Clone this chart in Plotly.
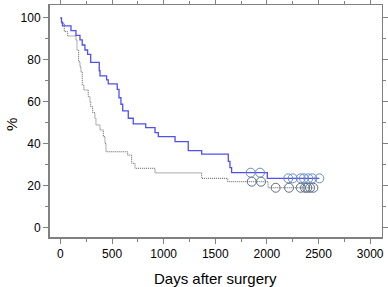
import plotly.graph_objects as go

# Blue group (Kaplan-Meier steps)
blue_days = [0, 10, 20, 102, 150, 189, 211, 237, 263, 293, 376, 383, 447, 463, 550, 567, 586, 603,
             657, 705, 826, 916, 948, 1110, 1238, 1368, 1626, 1642, 1658, 2004, 2508]
blue_pct = [100, 98, 96.2, 94, 91.7, 89.5, 87.1, 84.7, 82.6, 78.8, 74.8, 72.3, 70.4, 68.5, 65.9, 61.9,
            58.8, 55.6, 52.1, 49.4, 47.6, 45.2, 43.3, 40.9, 36.6, 35.0, 31.5, 28.5, 26.1, 23.4, 23.4]
blue_cens_days = [1843, 1933, 2207, 2250, 2327, 2359, 2401, 2440, 2508]
blue_cens_pct = [26.1, 26.1, 23.4, 23.4, 23.4, 23.4, 23.4, 23.4, 23.4]

# Gray group
gray_days = [0, 10, 37, 70, 150, 160, 176, 189, 198, 211, 227, 269, 286, 293, 312, 334, 344, 383,
             415, 431, 441, 651, 690, 722, 916, 1368, 1620, 2011, 2450]
gray_pct = [100, 97.5, 93.5, 91.4, 89.5, 84.7, 79.1, 76.7, 74.3, 67.9, 65.6, 62.4, 60, 57.6, 54.8,
            52.1, 48.9, 46.5, 43.3, 40.1, 36.1, 34.5, 30.6, 28.2, 26.0, 23.4, 21.8, 18.9, 18.9]
gray_cens_days = [1853, 1943, 2085, 2214, 2327, 2369, 2391, 2418, 2450]
gray_cens_pct = [21.8, 21.8, 18.9, 18.9, 18.9, 18.9, 18.9, 18.9, 18.9]

x_tickvals = [0, 500, 1000, 1500, 2000, 2500, 3000]
y_tickvals = [0, 20, 40, 60, 80, 100]
x_title = "Days after surgery"
y_title = "%"

FONT = "Liberation Sans, Arial"

fig = go.Figure()
fig.add_trace(go.Scatter(x=gray_days, y=gray_pct, mode="lines", line_shape="hv",
                         line=dict(color="#5a5a5a", width=1, dash="1px,1px"), showlegend=False))
fig.add_trace(go.Scatter(x=blue_days, y=blue_pct, mode="lines", line_shape="hv",
                         line=dict(color="#4f4ff2", width=1.3), showlegend=False))
fig.add_trace(go.Scatter(x=gray_cens_days, y=gray_cens_pct, mode="markers",
                         marker=dict(symbol="circle-open", size=9, color="#5d6f85", line=dict(width=1)),
                         showlegend=False))
fig.add_trace(go.Scatter(x=blue_cens_days, y=blue_cens_pct, mode="markers",
                         marker=dict(symbol="circle-open", size=9, color="#6a8cc0", line=dict(width=1)),
                         showlegend=False))

axis_common = dict(showline=True, linecolor="#808080", linewidth=1, mirror="ticks",
                   ticks="outside", ticklen=5, tickcolor="#808080", showgrid=False, zeroline=False,
                   automargin=False,
                   tickfont=dict(family=FONT, size=12, color="black"))

fig.update_xaxes(range=[-111, 3115], tickvals=x_tickvals,
                 minor=dict(dtick=250, tick0=0, ticks="outside", ticklen=3, tickcolor="#808080"),
                 **axis_common)
fig.update_yaxes(range=[-5.1, 106.2], tickvals=y_tickvals,
                 minor=dict(dtick=10, tick0=0, ticks="outside", ticklen=3, tickcolor="#808080"),
                 **axis_common)

fig.add_shape(type="line", xref="paper", yref="paper", x0=0, x1=0, y0=0, y1=1,
              line=dict(color="#808080", width=2))
fig.add_shape(type="line", xref="paper", yref="paper", x0=0, x1=1, y0=0, y1=0,
              line=dict(color="#808080", width=2))

fig.add_annotation(text=x_title, xref="paper", yref="paper", x=(215 - 49) / 333, y=-(278 - 238) / 233,
                   xanchor="center", yanchor="middle", showarrow=False,
                   font=dict(family=FONT, size=15, color="black"))
fig.add_annotation(text=y_title, xref="paper", yref="paper", x=-(49 - 11) / 333, y=(238 - 125) / 233,
                   xanchor="center", yanchor="middle", showarrow=False, textangle=-90,
                   font=dict(family=FONT, size=15, color="black"))

fig.update_layout(width=388, height=287, margin=dict(l=49, r=6, t=5, b=49, autoexpand=False),
                  plot_bgcolor="white", paper_bgcolor="white")

fig.write_html("out.html", config={"displayModeBar": False},
               post_script="document.body.style.margin='0';document.body.style.overflow='hidden';")
